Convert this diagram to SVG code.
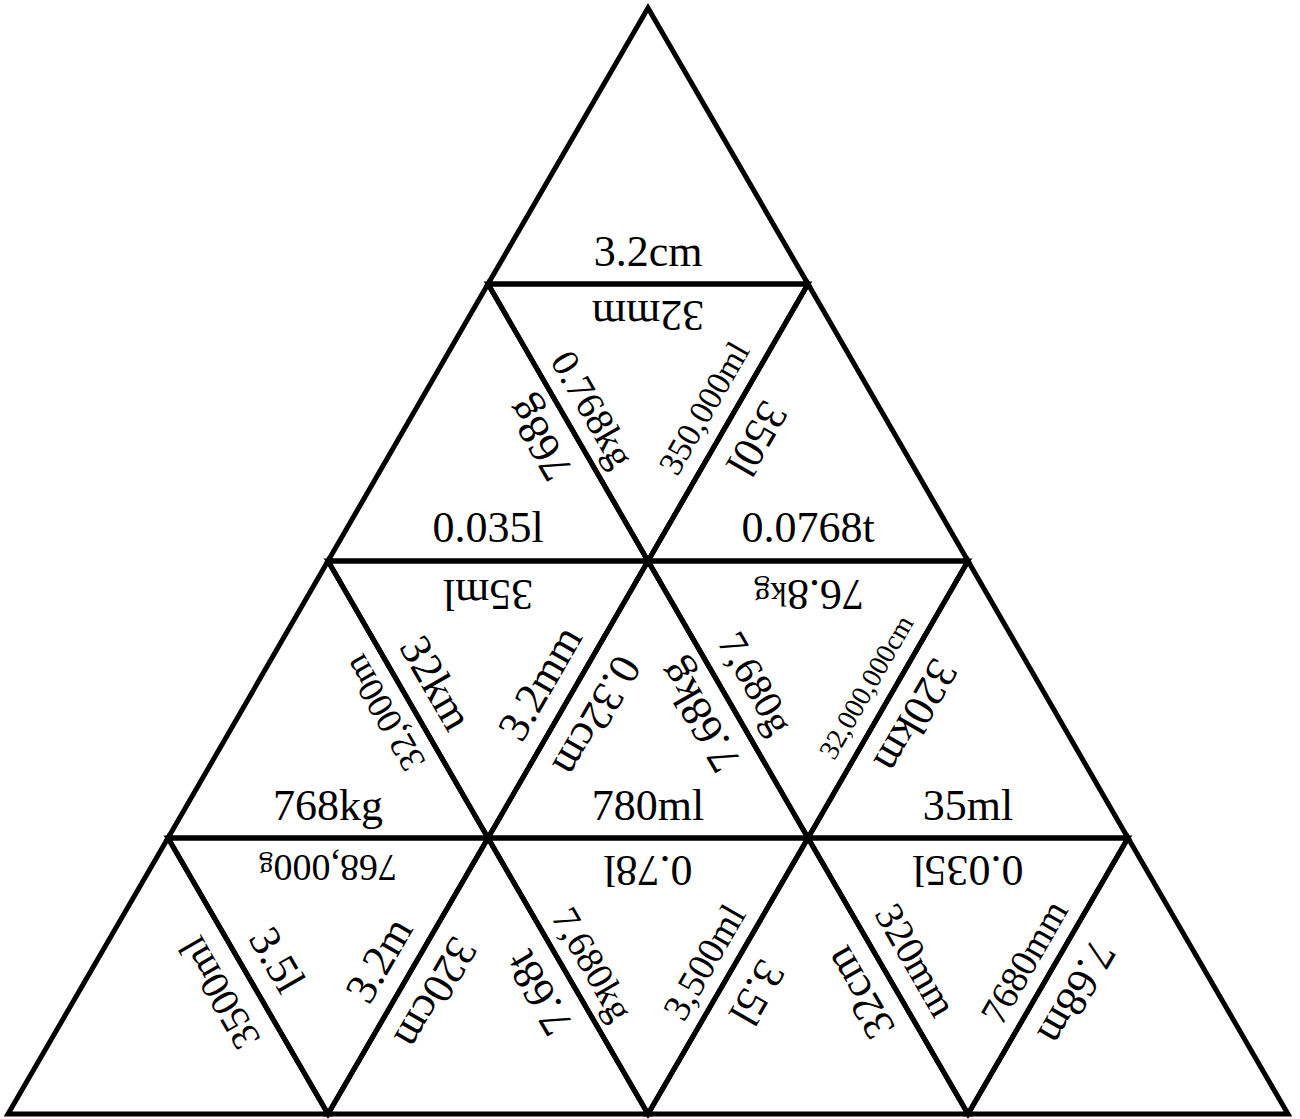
<svg xmlns="http://www.w3.org/2000/svg" width="1300" height="1119" viewBox="0 0 1300 1119">
<style>
.tri{fill:none;stroke:#000;stroke-width:5;stroke-linejoin:miter}
text{font-family:"Liberation Serif","Times New Roman",serif;fill:#000;text-anchor:middle;dominant-baseline:central;font-size:44px}
.s40{font-size:40px}.s39{font-size:39px}.s38{font-size:38px}.s36{font-size:36px}.s34{font-size:34px}.s28{font-size:28px}
</style>
<rect width="1300" height="1119" fill="#fff"/>
<g id="r1-1"><polygon class="tri" points="648,8 488,284 808,284"/>
<text transform="translate(648,251)">3.2cm</text></g>
<g id="r2-1"><polygon class="tri" points="488,284 328,561 648,561"/>
<text transform="translate(539,439) rotate(-120)">768g</text>
<text transform="translate(488,527)">0.035l</text></g>
<g id="r2-2"><polygon class="tri" points="488,284 808,284 648,561"/>
<text transform="translate(648,315) rotate(180)">32mm</text>
<text class="s39" transform="translate(593,409) rotate(60)">0.768kg</text>
<text class="s34" transform="translate(704,408) rotate(-60)">350,000ml</text></g>
<g id="r2-3"><polygon class="tri" points="808,284 648,561 968,561"/>
<text transform="translate(757,439) rotate(120)">350l</text>
<text transform="translate(808,527)">0.0768t</text></g>
<g id="r3-1"><polygon class="tri" points="328,561 168,838 488,838"/>
<text class="s36" transform="translate(384,713) rotate(-120)">32,000m</text>
<text transform="translate(328,805)">768kg</text></g>
<g id="r3-2"><polygon class="tri" points="328,561 648,561 488,838"/>
<text transform="translate(488,594) rotate(180)">35ml</text>
<text transform="translate(436,683) rotate(60)">32km</text>
<text transform="translate(540,683) rotate(-60)">3.2mm</text></g>
<g id="r3-3"><polygon class="tri" points="648,561 488,838 808,838"/>
<text transform="translate(597,716) rotate(120)">0.32cm</text>
<text transform="translate(699,716) rotate(-120)">7.68kg</text>
<text transform="translate(648,805)">780ml</text></g>
<g id="r3-4"><polygon class="tri" points="648,561 968,561 808,838"/>
<text transform="translate(809,594) rotate(180)">76.8<tspan style="font-size:33px">kg</tspan></text>
<text class="s40" transform="translate(756,683) rotate(60)">7,680g</text>
<text class="s28" transform="translate(866,687) rotate(-60)">32,000,000cm</text></g>
<g id="r3-5"><polygon class="tri" points="968,561 808,838 1128,838"/>
<text transform="translate(916,716) rotate(120)">320km</text>
<text transform="translate(968,805)">35ml</text></g>
<g id="r4-1"><polygon class="tri" points="168,838 8,1114 328,1114"/>
<text class="s40" transform="translate(219,993) rotate(-120)">3500ml</text></g>
<g id="r4-2"><polygon class="tri" points="168,838 488,838 328,1114"/>
<text class="s38" transform="translate(328,868) rotate(180)">768,000<tspan style="font-size:29px">g</tspan></text>
<text transform="translate(277,960) rotate(60)">3.5l</text>
<text transform="translate(379,960) rotate(-60)">3.2m</text></g>
<g id="r4-3"><polygon class="tri" points="488,838 328,1114 648,1114"/>
<text transform="translate(436,993) rotate(120)">320cm</text>
<text transform="translate(539,993) rotate(-120)">7.68t</text></g>
<g id="r4-4"><polygon class="tri" points="488,838 808,838 648,1114"/>
<text transform="translate(648,870) rotate(180)">0.78l</text>
<text class="s38" transform="translate(593,964) rotate(60)">7,680kg</text>
<text class="s38" transform="translate(704,962) rotate(-60)">3,500ml</text></g>
<g id="r4-5"><polygon class="tri" points="808,838 648,1114 968,1114"/>
<text transform="translate(757,993) rotate(120)">3.5l</text>
<text transform="translate(859,993) rotate(-120)">32cm</text></g>
<g id="r4-6"><polygon class="tri" points="808,838 1128,838 968,1114"/>
<text transform="translate(968,870) rotate(180)">0.035l</text>
<text class="s40" transform="translate(916,960) rotate(60)">320mm</text>
<text class="s38" transform="translate(1024,962) rotate(-60)">7680mm</text></g>
<g id="r4-7"><polygon class="tri" points="1128,838 968,1114 1288,1114"/>
<text transform="translate(1077,993) rotate(120)">7.68m</text></g>
<g id="connectors"/>
</svg>
